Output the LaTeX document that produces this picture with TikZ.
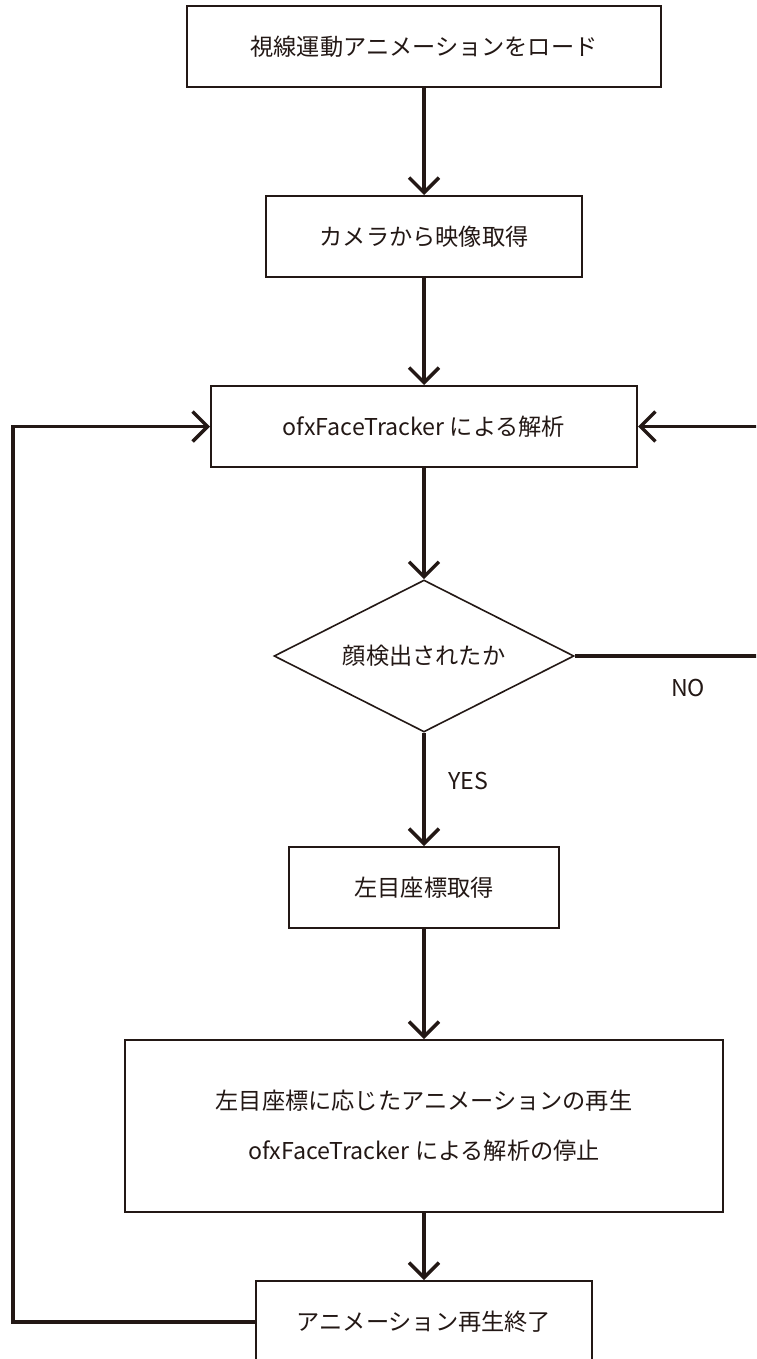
\documentclass[tikz,border=0pt]{standalone}
\usepackage{fontspec}
\setmainfont{Noto Sans CJK JP}
\usetikzlibrary{arrows.meta,shapes.geometric}
\definecolor{ink}{HTML}{231815}
\tikzset{
  box/.style={draw=ink, line width=2pt, fill=white, text=ink, inner sep=0pt, align=center},
  dia/.style={draw=ink, line width=1.6pt, diamond, aspect=1.97, inner sep=0pt, text=ink,
              minimum width=300pt, minimum height=152pt},
  conn/.style={draw=ink, line width=3.4pt, -{Straight Barb[length=15pt,width=30pt,line width=3.4pt]}},
  lbl/.style={text=ink, inner sep=0pt}
}
\begin{document}
\begin{tikzpicture}[x=1pt,y=-1pt,font=\fontsize{23.2}{50}\selectfont]
\useasboundingbox (0,0) rectangle (756,1359);
\clip (0,0) rectangle (756,1359);
\node[box, minimum width=474pt, minimum height=81pt] (b1) at (424,46.5) {視線運動アニメーションをロード};
\node[box, minimum width=316pt, minimum height=81pt] (b2) at (424,236.5) {カメラから映像取得};
\node[box, minimum width=426pt, minimum height=81pt] (b3) at (424,426.5) {ofxFaceTracker による解析};
\node[dia] (d) at (424,656) {顔検出されたか};
\node[box, minimum width=270pt, minimum height=81pt] (b4) at (424,887.5) {左目座標取得};
\node[box, minimum width=598pt, minimum height=172pt] (b5) at (424,1126) {左目座標に応じたアニメーションの再生\\ofxFaceTracker による解析の停止};
\node[box, minimum width=336pt, minimum height=82pt] (b6) at (424,1322) {アニメーション再生終了};
\node[lbl] (lyes) at (468,781) {YES};
\node[lbl] (lno) at (688,688) {NO};
\coordinate (lt) at (13,426.5);
\coordinate (lb) at (13,1322);
\coordinate (rt) at (790,426.5);
\coordinate (rb) at (790,656);
\draw[conn] (b1) -- (b2);
\draw[conn] (b2) -- (b3);
\draw[conn] (b3) -- (d);
\draw[conn] (d) -- (b4);
\draw[conn] (b4) -- (b5);
\draw[conn] (b5) -- (b6);
\draw[conn] (b6.west) -- (lb) -- (lt) -- (b3.west);
\draw[conn] (d.east) -- (rb) -- (rt) -- (b3.east);
\end{tikzpicture}
\end{document}
